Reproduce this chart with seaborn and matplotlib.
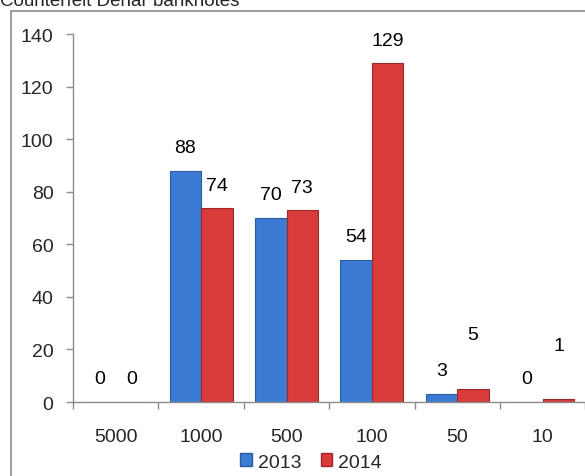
import pandas as pd
import matplotlib
matplotlib.use("Agg")
import matplotlib.pyplot as plt
from matplotlib.lines import Line2D
from matplotlib.patches import Patch
import seaborn as sns

# data
denominations = ["5000", "1000", "500", "100", "50", "10"]
years = ["2013", "2014"]
counts_2013 = [0, 88, 70, 54, 3, 0]
counts_2014 = [0, 74, 73, 129, 5, 1]

df = pd.DataFrame({
    "Denomination": denominations * 2,
    "Year": [years[0]] * len(denominations) + [years[1]] * len(denominations),
    "Count": counts_2013 + counts_2014,
})

sns.set_style("white")
plt.rcParams["font.family"] = ["Liberation Sans", "DejaVu Sans"]

colors = {"2013": "#3B7BD4", "2014": "#D93A3A"}
edges = {"2013": "#2C5C9E", "2014": "#9C2828"}
grey = "#8C8C8C"
fs = 14

fig = plt.figure(figsize=(5.85, 4.77), dpi=100)
ax = fig.add_axes([0.1248, 0.1551, 0.876, 0.7715])

sns.barplot(data=df, x="Denomination", y="Count", hue="Year", order=denominations,
            hue_order=years, palette=colors, saturation=1, width=0.738, gap=0,
            dodge=True, errorbar=None, legend=False, ax=ax)

for cont, yr in zip(ax.containers, years):
    for bar in cont:
        bar.set_edgecolor(edges[yr])
        bar.set_linewidth(0.8)

# value labels (Excel moved a couple of the small ones higher)
label_offsets = {"2013": [17, 17, 17, 17, 17, 17], "2014": [17, 16, 16, 16, 39, 39]}
for cont, yr in zip(ax.containers, years):
    vals = counts_2013 if yr == "2013" else counts_2014
    for bar, v, off in zip(cont, vals, label_offsets[yr]):
        ax.annotate(str(v), (bar.get_x() + bar.get_width() / 2, bar.get_height()),
                    xytext=(0, off), textcoords="offset points",
                    ha="center", va="center", fontsize=fs, color="black")

ax.set_ylim(0, 140)
ax.set_xlim(-0.5, len(denominations) - 0.5)
ax.set_yticks(range(0, 141, 20))
ax.set_xlabel("")
ax.set_ylabel("")

for s in ["top", "right"]:
    ax.spines[s].set_visible(False)
for s in ["left", "bottom"]:
    ax.spines[s].set_color(grey)
    ax.spines[s].set_linewidth(1)

ax.tick_params(axis="y", which="major", direction="out", length=5, width=1,
               color=grey, pad=9, labelsize=fs, left=True)
ax.tick_params(axis="x", which="major", length=0, pad=19, labelsize=fs)
ax.set_xticks([i + 0.5 for i in range(-1, len(denominations))], minor=True)
ax.tick_params(axis="x", which="minor", direction="out", length=5, width=1,
               color=grey, bottom=True)

handles = [Patch(facecolor=colors[y], edgecolor=edges[y], label=y) for y in years]
fig.legend(handles=handles, loc="center", bbox_to_anchor=(311 / 585, 14 / 477),
           ncol=2, frameon=False, fontsize=fs, handlelength=0.6, handleheight=0.6,
           handletextpad=0.3, columnspacing=1.0, borderpad=0)

# chart frame and cut-off title
fig.add_artist(Line2D([10.5 / 585, 10.5 / 585], [0, 1 - 11.5 / 477], color=grey, lw=1.2))
fig.add_artist(Line2D([10.5 / 585, 1], [1 - 11.5 / 477, 1 - 11.5 / 477], color=grey, lw=1.2))
fig.text(0.0, 1 - 6 / 477, "Counterfeit Denar banknotes", fontsize=13.5, va="baseline", ha="left")

fig.savefig("out.png", dpi=100)
